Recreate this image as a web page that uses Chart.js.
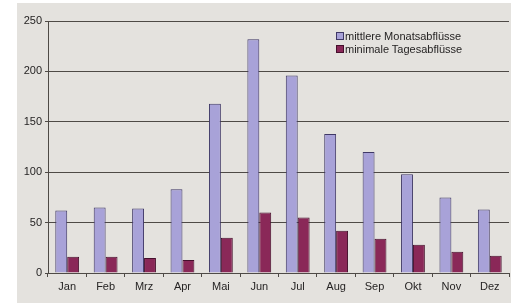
<!DOCTYPE html>
<html>
<head>
<meta charset="utf-8">
<script src="https://cdn.jsdelivr.net/npm/chart.js@4/dist/chart.umd.min.js"></script>
<style>
  body { margin: 0; background: #fff; }
  #wrap { position: absolute; left: 17px; top: 3px; width: 494px; height: 300px; background: #e4e2de; }
  #legend { position: absolute; left: 319px; top: 27px; font: 11px "Liberation Sans", Arial, sans-serif; color: #262424; }
  #legend div { height: 13px; line-height: 13px; white-space: nowrap; }
  #legend span { display: inline-block; width: 6px; height: 6px; border: 1px solid #3f3550; margin-right: 1px; vertical-align: 0px; }
</style>
</head>
<body>
<div id="wrap">
  <canvas id="myChart" width="494" height="300"></canvas>
  <div id="legend"></div>
</div>
<script>
// Abflüsse pro Monat
const months = ["Jan", "Feb", "Mrz", "Apr", "Mai", "Jun", "Jul", "Aug", "Sep", "Okt", "Nov", "Dez"];
const meanMonthly = [62, 65, 64, 83, 168, 232, 196, 138, 120, 98, 75, 63];
const minDaily = [16, 16, 15, 13, 35, 60, 55, 42, 34, 28, 21, 17];
const yTicks = [0, 50, 100, 150, 200, 250];

const lilac = "#a8a2d8";
const wine = "#8a2858";
const gridColor = "#4e4a46";
const font = { family: "'Liberation Sans', Arial, sans-serif", size: 11 };

const chart = new Chart("myChart", {
  type: "bar",
  data: {
    labels: months,
    datasets: [
      { label: "mittlere Monatsabflüsse", data: meanMonthly, backgroundColor: lilac, borderColor: "#3f3866", borderWidth: 1 },
      { label: "minimale Tagesabflüsse", data: minDaily, backgroundColor: wine, borderColor: "#45102c", borderWidth: 1 },
    ],
  },
  options: {
    responsive: false,
    animation: false,
    layout: { padding: { top: 18, right: 2, left: 0, bottom: 0 } },
    datasets: { bar: { categoryPercentage: 0.62, barPercentage: 1 } },
    plugins: { legend: { display: false }, tooltip: { enabled: false } },
    scales: {
      x: {
        grid: { drawOnChartArea: false, color: gridColor, tickLength: 4, tickWidth: 1 },
        border: { color: gridColor, width: 1 },
        ticks: { color: "#262424", font: font, padding: 3, maxRotation: 0 },
        afterFit: (s) => { s.height = 30; },
      },
      y: {
        min: 0,
        max: 250,
        afterBuildTicks: (s) => { s.ticks = yTicks.map((v) => ({ value: v })); },
        grid: { color: gridColor, tickLength: 3, lineWidth: 1 },
        border: { color: gridColor, width: 1 },
        ticks: { color: "#262424", font: font, padding: 3 },
        afterFit: (s) => { s.width = 31; },
      },
    },
  },
});

// Legende als HTML aus den Datensätzen
document.getElementById("legend").innerHTML = chart.data.datasets
  .map((d) => `<div><span style="background:${d.backgroundColor};border-color:${d.borderColor}"></span>${d.label}</div>`)
  .join("");
</script>
</body>
</html>
